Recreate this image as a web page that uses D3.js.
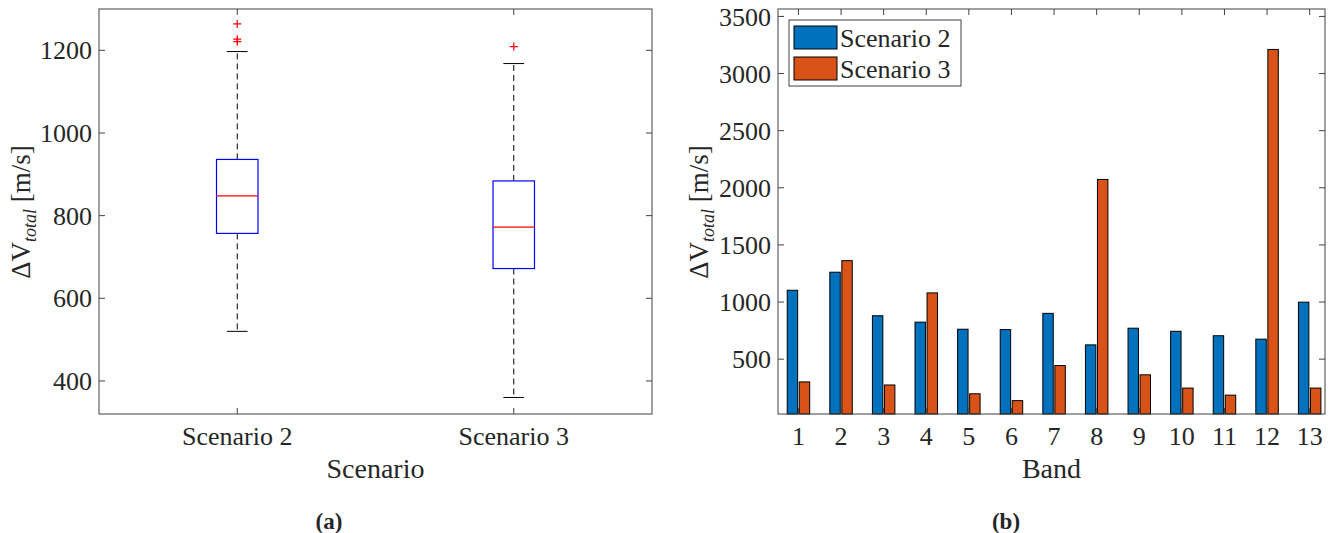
<!DOCTYPE html>
<html>
<head>
<meta charset="utf-8">
<script src="https://cdn.jsdelivr.net/npm/d3@7"></script>
<style>
  body { margin: 0; background: #fff; }
  svg text { font-family: "Liberation Serif", "DejaVu Serif", serif; fill: #262626; }
</style>
</head>
<body>
<div id="wrapper"></div>
<script>
// data
const scenarios = ["Scenario 2", "Scenario 3"]
const whiskerLow = [520, 360]
const q1 = [757, 672]
const median = [848, 772]
const q3 = [936, 884]
const whiskerHigh = [1197, 1168]
const outliers = [[1264, 1227, 1221], [1209]]
const boxTicks = [400, 600, 800, 1000, 1200]

const bands = [1, 2, 3, 4, 5, 6, 7, 8, 9, 10, 11, 12, 13]
const scen2 = [1103, 1261, 880, 824, 762, 759, 901, 625, 771, 744, 705, 675, 999]
const scen3 = [301, 1362, 274, 1080, 197, 137, 444, 2073, 363, 247, 185, 3211, 247]
const barTicks = [500, 1000, 1500, 2000, 2500, 3000, 3500]
const seriesNames = ["Scenario 2", "Scenario 3"]
const seriesColors = ["#0072BD", "#D95319"]

const width = 1330, height = 533
const axisColor = "#404040"
const tickLen = 6
const serif = "Liberation Serif"

const svg = d3.select("#wrapper").append("svg")
  .attr("width", width)
  .attr("height", height)
  .attr("font-family", serif)

// helper: y label  ΔV_total [m/s]
function yLabel(g, x, y) {
  const t = g.append("text")
    .attr("transform", `translate(${x},${y}) rotate(-90)`)
    .attr("text-anchor", "middle")
    .style("font-size", "27px")
  t.append("tspan").text("ΔV")
  t.append("tspan").text("total").style("font-style", "italic").style("font-size", "18px").attr("dy", 6)
  t.append("tspan").text("\u00a0[m/s]").attr("dy", -6)
}

function frame(g, x0, x1, y0, y1) {
  g.append("rect")
    .attr("x", x0).attr("y", y0)
    .attr("width", x1 - x0).attr("height", y1 - y0)
    .attr("fill", "none").attr("stroke", axisColor).attr("stroke-width", 1)
}

// ---------- (a) box plot ----------
const A = { left: 99, right: 652, top: 9, bottom: 414 }
const xA = d3.scaleLinear().domain([0.5, 2.5]).range([A.left, A.right])
const yA = d3.scaleLinear().domain([320, 1300]).range([A.bottom, A.top])
const gA = svg.append("g")

frame(gA, A.left, A.right, A.top, A.bottom)

// ticks inside, on all four sides
boxTicks.forEach(v => {
  gA.append("line").attr("x1", A.left).attr("x2", A.left + tickLen)
    .attr("y1", yA(v)).attr("y2", yA(v)).attr("stroke", axisColor)
  gA.append("line").attr("x1", A.right).attr("x2", A.right - tickLen)
    .attr("y1", yA(v)).attr("y2", yA(v)).attr("stroke", axisColor)
  gA.append("text").attr("x", A.left - 7).attr("y", yA(v)).attr("dy", "0.35em")
    .attr("text-anchor", "end").style("font-size", "26px").text(v)
})
scenarios.forEach((s, i) => {
  const cx = xA(i + 1)
  gA.append("line").attr("x1", cx).attr("x2", cx).attr("y1", A.bottom).attr("y2", A.bottom - tickLen).attr("stroke", axisColor)
  gA.append("line").attr("x1", cx).attr("x2", cx).attr("y1", A.top).attr("y2", A.top + tickLen).attr("stroke", axisColor)
  gA.append("text").attr("x", cx).attr("y", 445).attr("text-anchor", "middle")
    .style("font-size", "26px").text(s)
})

const boxW = xA(1.075) - xA(1)
const capW = boxW / 2
scenarios.forEach((s, i) => {
  const cx = xA(i + 1)
  // whiskers
  gA.append("line").attr("x1", cx).attr("x2", cx).attr("y1", yA(q3[i])).attr("y2", yA(whiskerHigh[i]))
    .attr("stroke", "#000").attr("stroke-dasharray", "6,4")
  gA.append("line").attr("x1", cx).attr("x2", cx).attr("y1", yA(q1[i])).attr("y2", yA(whiskerLow[i]))
    .attr("stroke", "#000").attr("stroke-dasharray", "6,4")
  gA.append("line").attr("x1", cx - capW).attr("x2", cx + capW).attr("y1", yA(whiskerHigh[i])).attr("y2", yA(whiskerHigh[i])).attr("stroke", "#000")
  gA.append("line").attr("x1", cx - capW).attr("x2", cx + capW).attr("y1", yA(whiskerLow[i])).attr("y2", yA(whiskerLow[i])).attr("stroke", "#000")
  // box
  gA.append("rect").attr("x", cx - boxW).attr("y", yA(q3[i]))
    .attr("width", boxW * 2).attr("height", yA(q1[i]) - yA(q3[i]))
    .attr("fill", "none").attr("stroke", "#0000ff").attr("stroke-width", 1.2)
  gA.append("line").attr("x1", cx - boxW).attr("x2", cx + boxW).attr("y1", yA(median[i])).attr("y2", yA(median[i]))
    .attr("stroke", "#ff0000").attr("stroke-width", 1.2)
  // outliers
  outliers[i].forEach(o => {
    gA.append("path")
      .attr("d", `M${cx - 4},${yA(o)}h8M${cx},${yA(o) - 4}v8`)
      .attr("stroke", "#ff0000").attr("stroke-width", 1.2)
  })
})

gA.append("text").attr("x", (A.left + A.right) / 2).attr("y", 478).attr("text-anchor", "middle")
  .style("font-size", "28px").text("Scenario")
yLabel(gA, 30, 212)
gA.append("text").attr("x", 329).attr("y", 529).attr("text-anchor", "middle")
  .style("font-size", "23px").style("font-weight", "bold").text("(a)")

// ---------- (b) grouped bars ----------
const B = { left: 778, right: 1325, top: 9, bottom: 414 }
const xB = d3.scaleLinear().domain([0.52, 13.36]).range([B.left, B.right])
const yB = d3.scaleLinear().domain([20, 3565]).range([B.bottom, B.top]).clamp(true)
const gB = svg.append("g")

const barW = (xB(2) - xB(1)) * 0.245
const offsets = [-barW / 2 - 0.8, barW / 2 + 0.8]
const series = [scen2, scen3]

series.forEach((vals, si) => {
  gB.selectAll(null).data(bands).enter().append("rect")
    .attr("x", (d, i) => xB(d) + offsets[si] - barW / 2)
    .attr("y", (d, i) => yB(vals[i]))
    .attr("width", barW)
    .attr("height", (d, i) => yB(0) - yB(vals[i]))
    .attr("fill", seriesColors[si])
    .attr("stroke", "#000").attr("stroke-width", 1)
})

frame(gB, B.left, B.right, B.top, B.bottom)

barTicks.forEach(v => {
  gB.append("line").attr("x1", B.left).attr("x2", B.left + tickLen)
    .attr("y1", yB(v)).attr("y2", yB(v)).attr("stroke", axisColor)
  gB.append("line").attr("x1", B.right).attr("x2", B.right - tickLen)
    .attr("y1", yB(v)).attr("y2", yB(v)).attr("stroke", axisColor)
  gB.append("text").attr("x", B.left - 7).attr("y", yB(v)).attr("dy", "0.35em")
    .attr("text-anchor", "end").style("font-size", "26px").text(v)
})
bands.forEach(b => {
  const cx = xB(b)
  gB.append("line").attr("x1", cx).attr("x2", cx).attr("y1", B.bottom).attr("y2", B.bottom - tickLen).attr("stroke", axisColor)
  gB.append("line").attr("x1", cx).attr("x2", cx).attr("y1", B.top).attr("y2", B.top + tickLen).attr("stroke", axisColor)
  gB.append("text").attr("x", cx).attr("y", 445).attr("text-anchor", "middle")
    .style("font-size", "26px").text(b)
})

gB.append("text").attr("x", (B.left + B.right) / 2).attr("y", 478).attr("text-anchor", "middle")
  .style("font-size", "28px").text("Band")
yLabel(gB, 708, 212)
gB.append("text").attr("x", 1006).attr("y", 529).attr("text-anchor", "middle")
  .style("font-size", "23px").style("font-weight", "bold").text("(b)")

// legend
const leg = gB.append("g")
leg.append("rect").attr("x", 789).attr("y", 20).attr("width", 172).attr("height", 66)
  .attr("fill", "#fff").attr("stroke", axisColor)
seriesNames.forEach((n, i) => {
  leg.append("rect").attr("x", 794).attr("y", 26 + i * 31).attr("width", 43).attr("height", 23)
    .attr("fill", seriesColors[i]).attr("stroke", "#000")
  leg.append("text").attr("x", 840).attr("y", 38 + i * 31).attr("dy", "0.35em")
    .style("font-size", "26px").text(n)
})
</script>
</body>
</html>
